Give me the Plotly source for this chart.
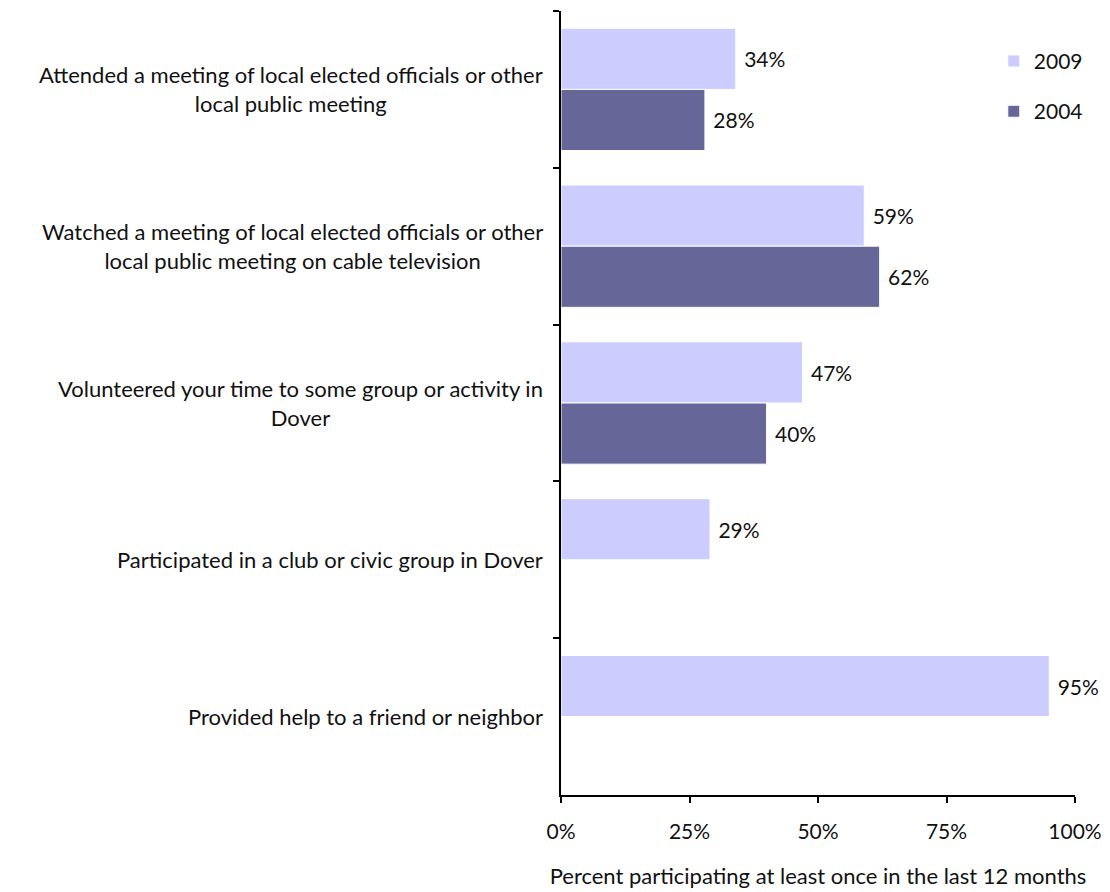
import plotly.graph_objects as go

categories = [
    "Attended a meeting of local elected officials or other<br>local public meeting",
    "Watched a meeting of local elected officials or other<br>local public meeting on cable television",
    "Volunteered your time to some group or activity in<br>Dover",
    "Participated in a club or civic group in Dover",
    "Provided help to a friend or neighbor",
]
values_2009 = [34, 59, 47, 29, 95]
values_2004 = [28, 62, 40, None, None]
x_ticks = [0, 25, 50, 75, 100]
x_tick_labels = ["0%", "25%", "50%", "75%", "100%"]

FONT = "Lato, Open Sans, sans-serif"
TXT = 22
NUM = 21

def pct(vals):
    return ["\u00a0" + f"{v}%" if v is not None else "" for v in vals]

fig = go.Figure()
fig.add_trace(go.Bar(
    y=categories, x=values_2009, orientation="h", name="2009",
    marker=dict(color="#CCCCFF", line=dict(color="white", width=1)),
    text=pct(values_2009), textposition="outside", cliponaxis=False,
    textfont=dict(size=NUM, color="#111111", family=FONT),
    legendgroup="a",
))
fig.add_trace(go.Bar(
    y=categories, x=values_2004, orientation="h", name="2004",
    marker=dict(color="#666699", line=dict(color="white", width=1)),
    text=pct(values_2004), textposition="outside", cliponaxis=False,
    textfont=dict(size=NUM, color="#111111", family=FONT),
    legendgroup="b",
))

# Category labels, centred per line, to the left of the axis
for cat in categories:
    fig.add_annotation(
        x=-0.031, xref="paper", y=cat, yref="y",
        text=cat, showarrow=False, xanchor="right", yanchor="middle",
        align="center", font=dict(size=TXT, family=FONT, color="#111111"),
    )

fig.update_layout(
    width=1110, height=892,
    margin=dict(l=561, r=35, t=11, b=97, autoexpand=False),
    paper_bgcolor="white", plot_bgcolor="white",
    font=dict(family=FONT, size=TXT, color="#111111"),
    barmode="group", bargap=0.22, bargroupgap=0.0,
    showlegend=True,
    legend=dict(
        x=0.842, y=0.962, xanchor="left", yanchor="top",
        traceorder="grouped", tracegroupgap=20,
        font=dict(size=NUM, family=FONT),
        itemwidth=30, bgcolor="rgba(0,0,0,0)",
    ),
    xaxis=dict(
        range=[0, 100], tickvals=x_ticks, ticktext=x_tick_labels,
        showgrid=False, zeroline=False, automargin=False,
        showline=True, linecolor="black", linewidth=2,
        ticks="outside", ticklen=6, tickwidth=2, tickcolor="black",
        tickfont=dict(size=NUM, family=FONT),
        ticklabelstandoff=11,
        title=dict(text="Percent participating at least once in the last 12 months",
                   font=dict(size=TXT, family=FONT), standoff=26),
    ),
    yaxis=dict(
        autorange="reversed", showgrid=False, zeroline=False, automargin=False,
        showline=True, linecolor="black", linewidth=2,
        ticks="outside", ticklen=6, tickwidth=2, tickcolor="black",
        tickson="boundaries", showticklabels=False,
    ),
)

fig.write_html("out.html")
